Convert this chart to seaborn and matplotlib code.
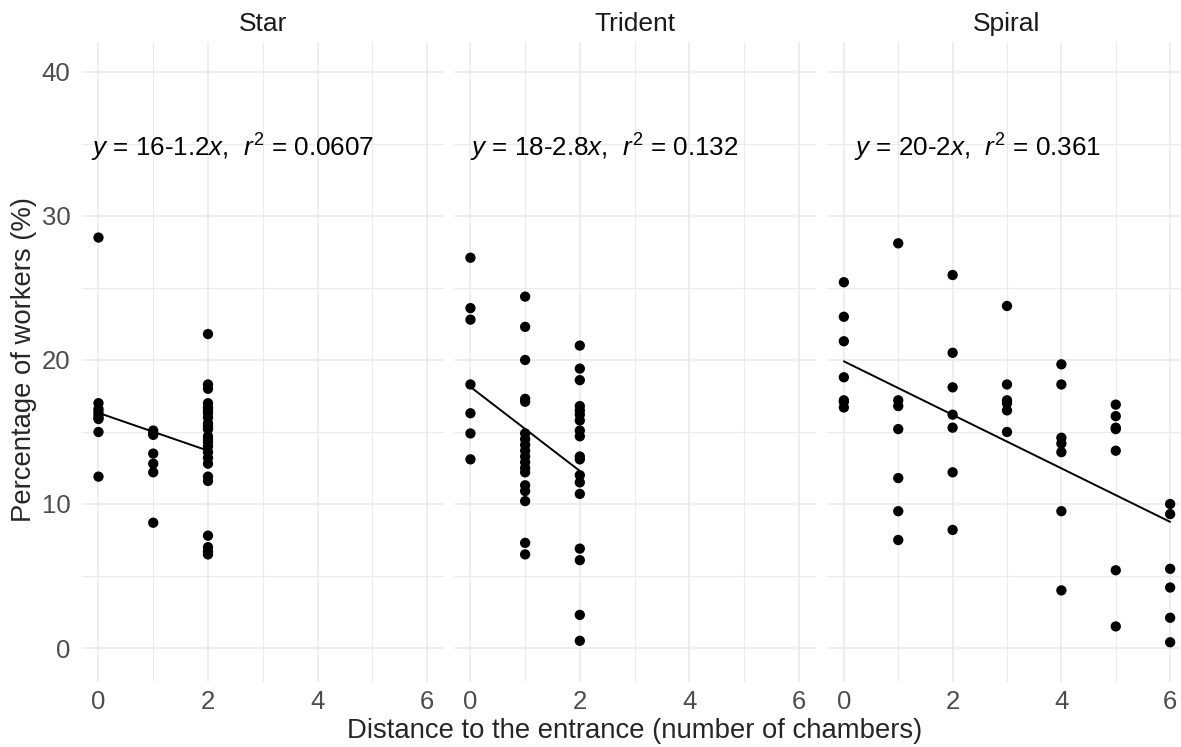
import numpy as np
import pandas as pd
import seaborn as sns
import matplotlib.pyplot as plt

# values
star_x0 = [28.5, 17.0, 16.6, 16.4, 16.2, 16.0, 15.9, 15.0, 11.9]
star_x1 = [15.1, 14.9, 14.8, 13.5, 12.8, 12.2, 8.7]
star_x2 = [21.8, 18.3, 18.0, 17.0, 16.7, 16.5, 16.3, 16.0, 15.6, 15.4, 15.2,
           14.7, 14.5, 14.3, 14.0, 13.6, 13.2, 12.8, 11.9, 11.6, 7.8, 7.0,
           6.7, 6.5]

trident_x0 = [27.1, 23.6, 22.8, 18.3, 16.3, 14.9, 13.1]
trident_x1 = [24.4, 22.3, 20.0, 17.3, 17.1, 14.9, 14.5, 14.1, 13.7, 13.3, 12.9,
              12.5, 12.2, 11.3, 10.9, 10.2, 7.3, 6.5]
trident_x2 = [21.0, 19.4, 18.6, 16.8, 16.5, 16.2, 15.8, 15.1, 14.7, 13.3, 13.1,
              12.0, 11.5, 10.7, 6.9, 6.1, 2.3, 0.5]

spiral = {
    0: [25.4, 23.0, 21.3, 18.8, 17.2, 17.1, 16.7],
    1: [28.1, 17.2, 16.8, 15.2, 11.8, 9.5, 7.5],
    2: [25.9, 20.5, 18.1, 16.2, 15.3, 12.2, 8.2],
    3: [23.75, 18.3, 17.2, 17.0, 16.5, 15.0],
    4: [19.7, 18.3, 14.6, 14.2, 13.6, 9.5, 4.0],
    5: [16.9, 16.1, 15.3, 15.2, 13.7, 5.4, 1.5],
    6: [10.0, 9.3, 5.5, 4.2, 2.1, 0.4],
}

shapes = ["Star", "Trident", "Spiral"]
equations = [r"$y$ = 16-1.2$x$,  $r^2$ = 0.0607",
             r"$y$ = 18-2.8$x$,  $r^2$ = 0.132",
             r"$y$ = 20-2$x$,  $r^2$ = 0.361"]
eq_xpos = [-0.14, 0.0, 0.18]

rows = []
for d, vals in zip([0, 1, 2], [star_x0, star_x1, star_x2]):
    rows += [("Star", d, v) for v in vals]
for d, vals in zip([0, 1, 2], [trident_x0, trident_x1, trident_x2]):
    rows += [("Trident", d, v) for v in vals]
for d, vals in spiral.items():
    rows += [("Spiral", d, v) for v in vals]
df = pd.DataFrame(rows, columns=["shape", "distance", "workers"])

sns.set_style("white")
plt.rcParams['font.family'] = ['Liberation Sans', 'DejaVu Sans']
plt.rcParams['mathtext.fontset'] = 'custom'
plt.rcParams['mathtext.rm'] = 'Liberation Sans'
plt.rcParams['mathtext.it'] = 'Liberation Sans:italic'

W, H = 1181, 747
fig = plt.figure(figsize=(W / 100, H / 100), dpi=100)
panels = [(81.5, 444), (453.5, 815.5), (827, 1187)]
top, bottom = 41.7, 682

grid_c = "#EBEBEB"
for i, (shape, (l, r)) in enumerate(zip(shapes, panels)):
    ax = fig.add_axes([l / W, 1 - bottom / H, (r - l) / W, (bottom - top) / H])
    sub = df[df["shape"] == shape]
    sns.scatterplot(data=sub, x="distance", y="workers", color="black",
                    s=55, edgecolor="none", ax=ax, zorder=3)
    sns.regplot(data=sub, x="distance", y="workers", scatter=False, ci=None,
                color="black", line_kws={"linewidth": 1.4}, ax=ax)
    ax.set_xlim(-0.31, 6.31)
    ax.set_ylim(-2.36, 42.1)
    ax.set_xticks([0, 2, 4, 6])
    ax.set_xticks([1, 3, 5], minor=True)
    ax.set_yticks([0, 10, 20, 30, 40])
    ax.set_yticks([5, 15, 25, 35], minor=True)
    ax.grid(which="major", color=grid_c, linewidth=1.2)
    ax.grid(which="minor", color=grid_c, linewidth=0.8)
    ax.set_axisbelow(True)
    for s in ax.spines.values():
        s.set_visible(False)
    ax.tick_params(which="both", length=0, labelsize=18.5, labelcolor="#4D4D4D")
    ax.tick_params(axis="x", pad=6)
    ax.tick_params(axis="y", pad=8)
    if i > 0:
        ax.set_yticklabels([])
    ax.set_xlabel("")
    ax.set_ylabel("")
    ax.set_title(shape, fontsize=19, color="#1A1A1A", pad=8)
    ax.text(eq_xpos[i], 34.7, equations[i], fontsize=18.7, va="center",
            ha="left", color="black")

fig.text(635 / W, 1 - 731 / H, "Distance to the entrance (number of chambers)",
         ha="center", va="center", fontsize=19.8)
fig.text(24 / W, 1 - 360 / H, "Percentage of workers (%)", ha="center",
         va="center", rotation=90, fontsize=19.8)

fig.savefig("out.png", dpi=100)
